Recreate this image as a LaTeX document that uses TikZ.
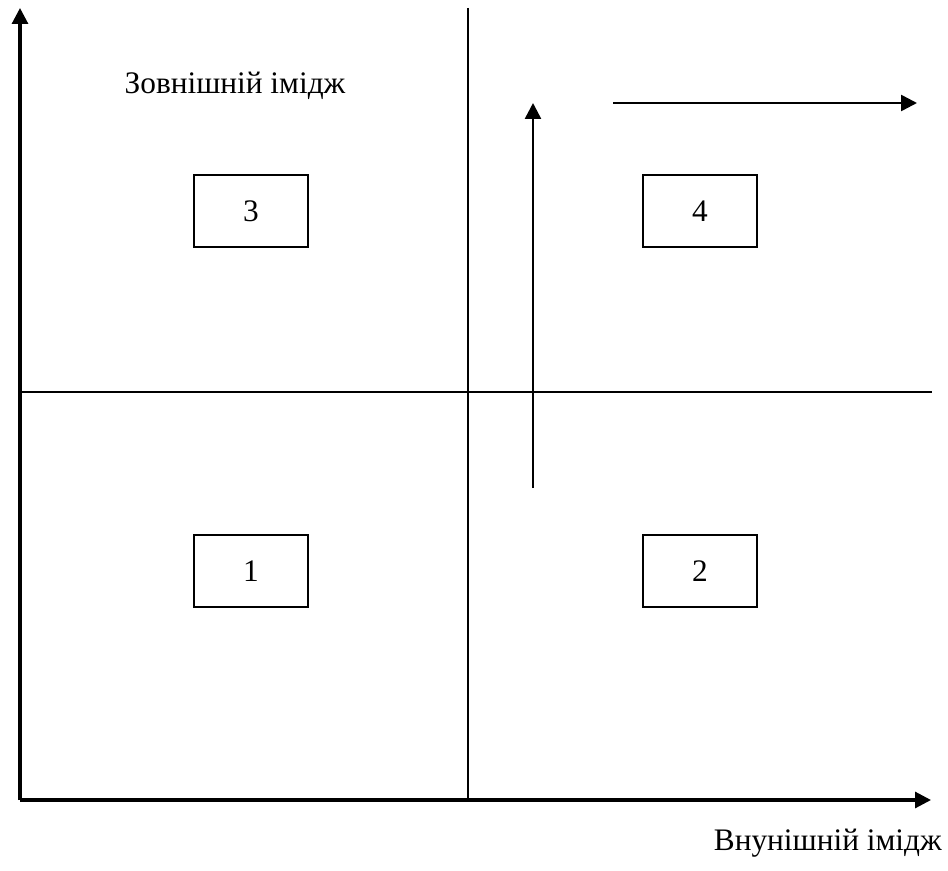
\documentclass[tikz,border=0pt]{standalone}
\usepackage{fontspec}
\setmainfont{Liberation Serif}
\usetikzlibrary{arrows.meta}
\tikzset{
  quad diagram/.style={
    x=0.75pt, y=-0.75pt,
    font=\fontsize{23.5}{28}\selectfont,
    >={Triangle[length=12pt,width=12pt]},
    line join=miter
  },
  axisline/.style={->, draw=black, line width=2.3pt},
  gridline/.style={draw=black, line width=1.3pt},
  trendarrow/.style={->, draw=black, line width=1.9pt},
  cellbox/.style={
    draw=black,
    line width=1.5pt,
    minimum width=85pt,
    minimum height=54pt,
    inner sep=0pt
  },
  axislabel/.style={inner sep=0pt}
}
\begin{document}
\begin{tikzpicture}[quad diagram]
\useasboundingbox (0,0) rectangle (948,870);
% axes
\coordinate (origin) at (20,800);
\coordinate (ytop) at (20,8);
\coordinate (xend) at (931,800);
\draw[axisline] (origin) -- (ytop);
\draw[axisline] (origin) -- (xend);
% quadrant lines
\coordinate (vtop) at (468,8);
\coordinate (vbot) at (468,800);
\coordinate (hleft) at (20,392);
\coordinate (hright) at (932,392);
\draw[gridline] (vtop) -- (vbot);
\draw[gridline] (hleft) -- (hright);
% cells
\node[cellbox] (q3) at (251,211) {3};
\node[cellbox] (q4) at (700,211) {4};
\node[cellbox] (q1) at (251,571) {1};
\node[cellbox] (q2) at (700,571) {2};
% labels
\node[axislabel] (ylabel) at (235,86) {Зовнішній імідж};
\node[axislabel, anchor=east] (xlabel) at (942,843) {Внунішній імідж};
% movement arrows
\coordinate (upstart) at (533,488);
\coordinate (upend) at (533,103);
\coordinate (rightstart) at (613,103);
\coordinate (rightend) at (917,103);
\draw[trendarrow] (upstart) -- (upend);
\draw[trendarrow] (rightstart) -- (rightend);
\end{tikzpicture}
\end{document}
